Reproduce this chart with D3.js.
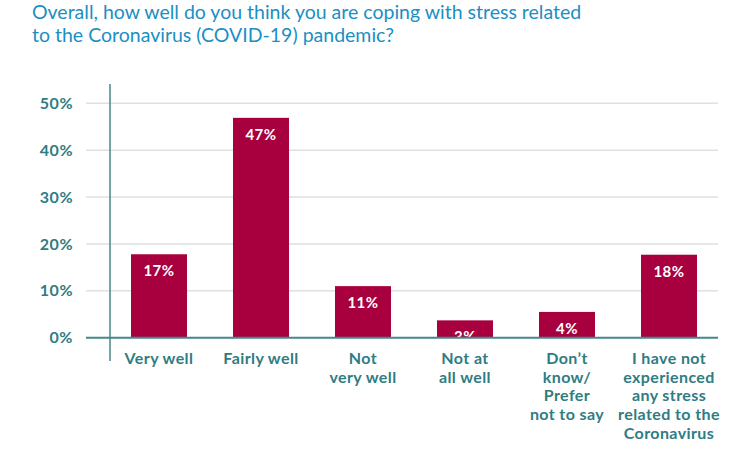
<!DOCTYPE html>
<html>
<head>
<meta charset="utf-8">
<script src="https://d3js.org/d3.v7.min.js"></script>
<style>
  body { margin: 0; background: #fff; }
  svg { font-family: Lato, "Open Sans", sans-serif; }
</style>
</head>
<body>
<svg id="chart"></svg>
<script>
// answers, bar heights as drawn, printed labels
const categories = [
  ["Very well"],
  ["Fairly well"],
  ["Not", "very well"],
  ["Not at", "all well"],
  ["Don\u2019t", "know/", "Prefer", "not to say"],
  ["I have not", "experienced", "any stress", "related to the", "Coronavirus"]
];
const values = [17.8, 46.9, 11.0, 3.7, 5.5, 17.7];
const valueLabels = ["17%", "47%", "11%", "3%", "4%", "18%"];
const yTicks = [0, 10, 20, 30, 40, 50];
const titleLines = [
  "Overall, how well do you think you are coping with stress related",
  "to the Coronavirus (COVID-19) pandemic?"
];

const width = 750, height = 450;
const crimson = "#a8003f", teal = "#468888", labelTeal = "#2f7c82";

const svg = d3.select("#chart")
  .attr("width", width)
  .attr("height", height)
  .attr("viewBox", [0, 0, width, height]);

// title
svg.append("g")
  .selectAll("text")
  .data(titleLines)
  .join("text")
  .attr("x", 32)
  .attr("y", (d, i) => 19 + i * 23)
  .attr("fill", "#1b8fc3")
  .style("font-size", "19.5px")
  .text(d => d);

const y = d3.scaleLinear().domain([0, 50]).range([337.7, 103.3]);
const x = d3.scaleBand()
  .domain(d3.range(categories.length))
  .range([100.4, 727.6])
  .paddingInner(0.451)
  .paddingOuter(0.3);

// gridlines
svg.append("g")
  .selectAll("line")
  .data(yTicks.filter(d => d > 0))
  .join("line")
  .attr("x1", 86).attr("x2", 718)
  .attr("y1", d => y(d)).attr("y2", d => y(d))
  .attr("stroke", "#dde1e1")
  .attr("stroke-width", 1.5);

// tick labels
svg.append("g")
  .selectAll("text")
  .data(yTicks)
  .join("text")
  .attr("x", 73)
  .attr("y", d => y(d))
  .attr("dy", "0.35em")
  .attr("text-anchor", "end")
  .attr("fill", labelTeal)
  .style("font-size", "16px")
  .style("letter-spacing", "0.5px")
  .style("font-weight", "bold")
  .text(d => d + "%");

// bars
svg.append("g")
  .selectAll("rect")
  .data(values)
  .join("rect")
  .attr("x", (d, i) => x(i))
  .attr("width", x.bandwidth())
  .attr("y", d => y(d))
  .attr("height", d => y(0) - y(d))
  .attr("fill", crimson);

// value labels
svg.append("g")
  .selectAll("text")
  .data(values)
  .join("text")
  .attr("x", (d, i) => x(i) + x.bandwidth() / 2)
  .attr("y", d => y(d) + 22)
  .attr("text-anchor", "middle")
  .attr("fill", "#fff")
  .style("font-size", "15px")
  .style("letter-spacing", "0.5px")
  .style("font-weight", "bold")
  .text((d, i) => valueLabels[i]);

// axes lines
svg.append("line")
  .attr("x1", 110).attr("x2", 110)
  .attr("y1", 84).attr("y2", 361)
  .attr("stroke", teal).attr("stroke-width", 1.5);
svg.append("line")
  .attr("x1", 86).attr("x2", 718)
  .attr("y1", y(0)).attr("y2", y(0))
  .attr("stroke", teal).attr("stroke-width", 2);

// category labels
const cat = svg.append("g")
  .selectAll("text")
  .data(categories)
  .join("text")
  .attr("x", (d, i) => x(i) + x.bandwidth() / 2)
  .attr("y", 364)
  .attr("text-anchor", "middle")
  .attr("fill", labelTeal)
  .style("font-size", "16px")
  .style("letter-spacing", "0.4px")
  .style("font-weight", "bold");

cat.selectAll("tspan")
  .data(d => d)
  .join("tspan")
  .attr("x", function () { return this.parentNode.getAttribute("x"); })
  .attr("dy", (d, i) => i === 0 ? 0 : 18.7)
  .text(d => d);
</script>
</body>
</html>
